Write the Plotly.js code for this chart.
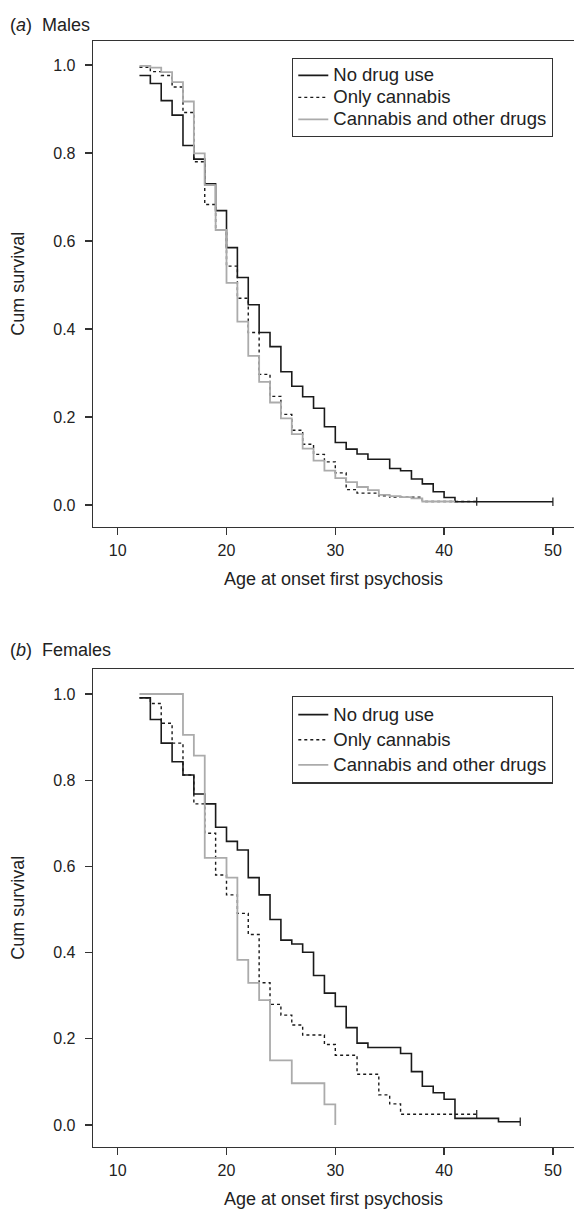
<!DOCTYPE html>
<html><head><meta charset="utf-8">
<script src="https://cdn.plot.ly/plotly-3.0.1.min.js"></script>
<style>html,body{margin:0;padding:0;background:#fff}#chart{width:574px;height:1210px}</style>
</head><body><div id="chart"></div>
<script>
// ---- Data ----
const seriesNames = ['No drug use', 'Only cannabis', 'Cannabis and other drugs'];

// (a) Males
const maleNoDrugAge  = [12,13,14,15,16,17,18,19,20,21,22,23,24,25,26,27,28,29,30,31,32,33,35,36,37,38,39,40,41,50];
const maleNoDrugSurv = [0.976,0.958,0.919,0.886,0.817,0.786,0.730,0.669,0.585,0.517,0.455,0.392,0.360,0.303,0.270,0.246,0.220,0.178,0.142,0.127,0.116,0.104,0.083,0.078,0.059,0.048,0.030,0.017,0.0075,0.0075];
const maleCannabisAge  = [12,13,14,15,16,17,18,19,20,21,22,23,24,25,26,27,28,29,30,31,32,34,35,38,43];
const maleCannabisSurv = [0.995,0.985,0.976,0.950,0.892,0.780,0.683,0.625,0.543,0.470,0.392,0.297,0.247,0.206,0.170,0.138,0.115,0.098,0.073,0.035,0.027,0.021,0.018,0.008,0.008];
const maleOtherAge  = [12,13,14,15,16,17,18,19,20,21,22,23,24,25,26,27,28,29,30,31,32,33,34,35,36,37,38,41];
const maleOtherSurv = [0.998,0.994,0.984,0.961,0.917,0.799,0.727,0.625,0.505,0.417,0.339,0.280,0.233,0.197,0.161,0.128,0.101,0.078,0.061,0.052,0.041,0.034,0.023,0.020,0.018,0.015,0.008,0.008];
const maleCensorAge  = [50, 43];
const maleCensorSurv = [0.0075, 0.008];

// (b) Females
const femNoDrugAge  = [12,13,14,15,16,17,18,19,20,21,22,23,24,25,26,27,28,29,30,31,32,33,36,37,38,39,40,41,45,47];
const femNoDrugSurv = [0.991,0.941,0.886,0.843,0.812,0.768,0.745,0.691,0.658,0.638,0.574,0.534,0.477,0.429,0.420,0.401,0.347,0.306,0.275,0.226,0.190,0.180,0.166,0.124,0.090,0.075,0.060,0.0155,0.0077,0.0077];
const femCannabisAge  = [12,13,14,15,16,17,18,19,20,21,22,23,24,25,26,27,29,30,32,34,35,36,43];
const femCannabisSurv = [0.991,0.978,0.932,0.886,0.812,0.745,0.677,0.580,0.534,0.491,0.442,0.330,0.280,0.255,0.232,0.209,0.187,0.162,0.118,0.070,0.049,0.025,0.025];
const femOtherAge  = [12,16,17,18,20,21,22,23,24,26,29,30];
const femOtherSurv = [1.0,0.905,0.857,0.620,0.574,0.383,0.330,0.290,0.150,0.097,0.048,0.0];
const femCensorAge  = [47, 43];
const femCensorSurv = [0.0077, 0.025];

const xTicks = [10,20,30,40,50];
const yTicks = [0,0.2,0.4,0.6,0.8,1.0];
const yTickText = ['0.0','0.2','0.4','0.6','0.8','1.0'];

// ---- Styles ----
const FONT = 'Liberation Sans, Arial, Helvetica, sans-serif';
const INK = '#222';
const styles = [
  {color:'#1a1a1a', width:1.6, dash:'solid'},
  {color:'#1a1a1a', width:1.4, dash:'3px,3px'},
  {color:'#ababab', width:1.8, dash:'solid'}
];

function kmTrace(x, y, i, xa, ya, leg){
  return {x:x, y:y, type:'scatter', mode:'lines',
    name:'<span style="font-size:18.5px">' + seriesNames[i] + '</span>',
    line:{shape:'hv', color:styles[i].color, width:styles[i].width, dash:styles[i].dash},
    xaxis:xa, yaxis:ya, legend:leg, showlegend:true, hoverinfo:'skip'};
}
function censorTrace(x, y, xa, ya){
  return {x:x, y:y, type:'scatter', mode:'markers', showlegend:false, hoverinfo:'skip',
    marker:{symbol:'line-ns-open', size:6, color:'#1a1a1a', line:{color:'#1a1a1a', width:1.2}}, xaxis:xa, yaxis:ya};
}

const data = [
  kmTrace(maleNoDrugAge, maleNoDrugSurv, 0, 'x', 'y', 'legend'),
  kmTrace(maleCannabisAge, maleCannabisSurv, 1, 'x', 'y', 'legend'),
  kmTrace(maleOtherAge, maleOtherSurv, 2, 'x', 'y', 'legend'),
  censorTrace(maleCensorAge, maleCensorSurv, 'x', 'y'),
  kmTrace(femNoDrugAge, femNoDrugSurv, 0, 'x2', 'y2', 'legend2'),
  kmTrace(femCannabisAge, femCannabisSurv, 1, 'x2', 'y2', 'legend2'),
  kmTrace(femOtherAge, femOtherSurv, 2, 'x2', 'y2', 'legend2'),
  censorTrace(femCensorAge, femCensorSurv, 'x2', 'y2')
];

function xAxis(anchor){
  return {anchor:anchor, domain:[0,1], range:[7.73,51.94], tickvals:xTicks,
    ticks:'outside', ticklen:7, tickwidth:1.3, tickcolor:'#333', ticklabelstandoff:2,
    showline:true, linecolor:'#333', linewidth:1.3, mirror:true,
    showgrid:false, zeroline:false, tickfont:{family:FONT, size:16, color:INK},
    title:{text:'Age at onset first psychosis', font:{family:FONT, size:18, color:INK}, standoff:14}};
}
function yAxis(anchor, domain, range){
  return {anchor:anchor, domain:domain, range:range, tickvals:yTicks, ticktext:yTickText,
    ticks:'outside', ticklen:7, tickwidth:1.3, tickcolor:'#333', ticklabelstandoff:6,
    showline:true, linecolor:'#333', linewidth:1.3, mirror:false,
    showgrid:false, zeroline:false, tickfont:{family:FONT, size:16, color:INK},
    title:{text:'Cum survival', font:{family:FONT, size:18, color:INK}, standoff:24}};
}
function legendBox(y, size){
  return {x:0.4137, y:y, xanchor:'left', yanchor:'top', bgcolor:'#fff',
    bordercolor:'#333', borderwidth:1.3, font:{family:FONT, size:size, color:INK},
    itemwidth:30, tracegroupgap:0};
}

const layout = {
  width:574, height:1210, paper_bgcolor:'#fff', plot_bgcolor:'#fff',
  margin:{l:93, r:0, t:0, b:0},
  font:{family:FONT, color:INK},
  showlegend:true,
  xaxis:xAxis('y'),
  yaxis:yAxis('x', [0.5647,0.9661], [-0.0493,1.0545]),
  xaxis2:xAxis('y2'),
  yaxis2:yAxis('x2', [0.0523,0.4471], [-0.0503,1.058]),
  legend:legendBox(0.952, 14.6),
  legend2:legendBox(0.425, 17),
  annotations:[
    {text:'(<i>a</i>)&nbsp; Males', xref:'paper', yref:'paper', x:-0.1767, y:0.979, xanchor:'left', yanchor:'middle', showarrow:false, font:{family:FONT, size:18, color:INK}},
    {text:'(<i>b</i>)&nbsp; Females', xref:'paper', yref:'paper', x:-0.1767, y:0.4628, xanchor:'left', yanchor:'middle', showarrow:false, font:{family:FONT, size:18, color:INK}}
  ]
};

Plotly.newPlot('chart', data, layout, {displayModeBar:false, staticPlot:true});
</script></body></html>
